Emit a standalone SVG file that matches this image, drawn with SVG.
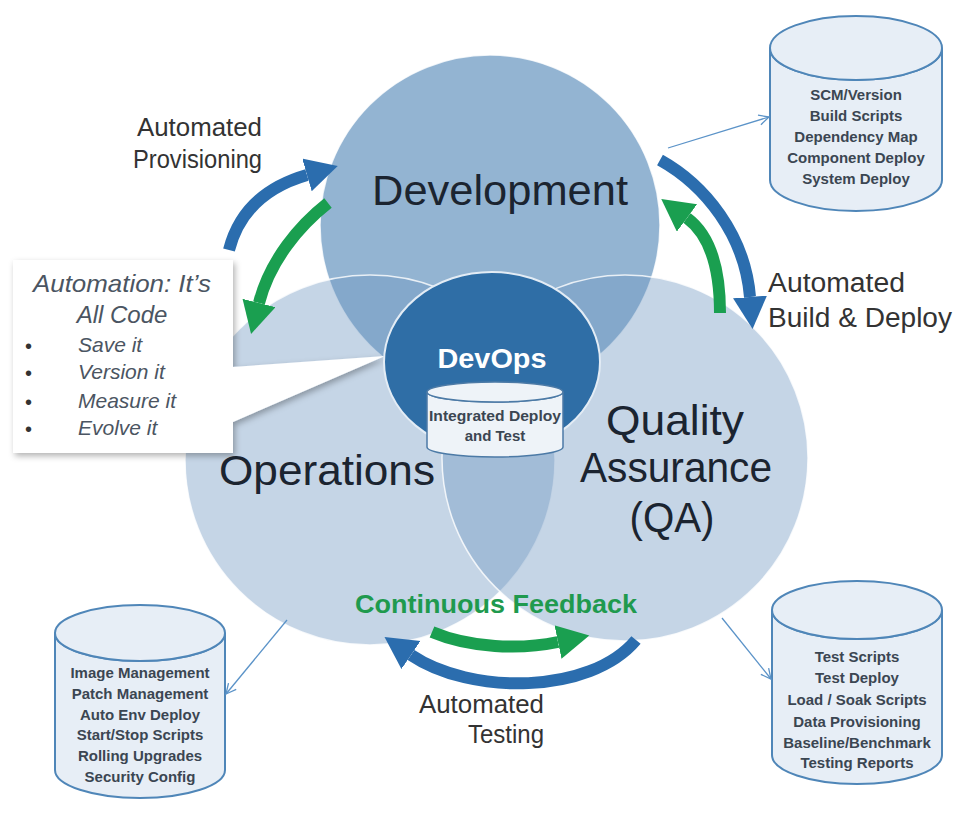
<svg xmlns="http://www.w3.org/2000/svg" width="971" height="816" viewBox="0 0 971 816">
  <defs>
    <style>
      .big { font-family: "Liberation Sans", Arial, sans-serif; font-size: 42px; fill: #1b2430; }
      .lbl { font-family: "Liberation Sans", Arial, sans-serif; fill: #333333; }
      .store { font-family: "Liberation Sans", Arial, sans-serif; font-size: 15px; font-weight: bold; fill: #3b4652; text-anchor: middle; }
      .note { font-family: "Liberation Sans", Arial, sans-serif; font-style: italic; fill: #4b5562; }
      .cyl { fill: #e7eef6; stroke: #4f86b8; stroke-width: 2; }
      .soft { fill: #6f97c1; fill-opacity: 0.4; stroke: #ffffff; stroke-opacity: 0.8; stroke-width: 1.5; }
      .blue { fill: none; stroke: #2b6dae; stroke-width: 12; }
      .green { fill: none; stroke: #1a9f50; stroke-width: 12; }
      .link { fill: none; stroke: #5b93c8; stroke-width: 1.3; }
    </style>
    <marker id="headBlue" markerUnits="userSpaceOnUse" markerWidth="34" markerHeight="36" refX="0" refY="17" orient="auto">
      <path d="M0,0 L32,17 L0,34 Z" fill="#2b6dae"/>
    </marker>
    <marker id="headGreen" markerUnits="userSpaceOnUse" markerWidth="34" markerHeight="36" refX="0" refY="17" orient="auto">
      <path d="M0,0 L32,17 L0,34 Z" fill="#1a9f50"/>
    </marker>
    <marker id="open" markerUnits="userSpaceOnUse" markerWidth="14" markerHeight="14" refX="11" refY="6" orient="auto">
      <path d="M1,1 L11,6 L1,11" fill="none" stroke="#5b93c8" stroke-width="1.3"/>
    </marker>
    <filter id="shadow" x="-10%" y="-10%" width="130%" height="130%">
      <feDropShadow dx="2" dy="3" stdDeviation="3" flood-color="#000000" flood-opacity="0.3"/>
    </filter>
  </defs>

  <rect width="971" height="816" fill="#ffffff"/>

  <!-- three overlapping areas -->
  <g id="development">
    <circle cx="490" cy="225" r="170" fill="#93b4d2" stroke="#ffffff" stroke-opacity="0.8" stroke-width="1.5"/>
  </g>
  <g id="operations">
    <circle class="soft" cx="370" cy="460" r="185"/>
  </g>
  <g id="qa">
    <circle class="soft" cx="625" cy="458" r="183"/>
  </g>

  <!-- callout -->
  <g id="callout">
    <path d="M13,260 H233 V367 L385,356 L233,422 V453 H13 Z" fill="#ffffff" filter="url(#shadow)"/>
    <text class="note" x="122" y="292" font-size="24" text-anchor="middle" textLength="178" lengthAdjust="spacingAndGlyphs">Automation: It’s</text>
    <text class="note" x="122" y="323" font-size="24" text-anchor="middle">All Code</text>
    <g font-family="Liberation Sans, Arial, sans-serif" font-size="20" fill="#333333">
      <text x="25" y="353">•</text>
      <text x="25" y="380">•</text>
      <text x="25" y="409">•</text>
      <text x="25" y="436">•</text>
    </g>
    <text class="note" x="78" y="352" font-size="21">Save it</text>
    <text class="note" x="78" y="379" font-size="21">Version it</text>
    <text class="note" x="78" y="408" font-size="21">Measure it</text>
    <text class="note" x="78" y="435" font-size="21">Evolve it</text>
  </g>

  <!-- centre -->
  <g id="devops">
    <ellipse cx="492" cy="362" rx="108" ry="90" fill="#2f6ea6" stroke="#e3ecf5" stroke-width="2"/>
    <text x="492" y="368" font-family="Liberation Sans, Arial, sans-serif" font-size="28" font-weight="bold" fill="#ffffff" text-anchor="middle" textLength="109" lengthAdjust="spacingAndGlyphs">DevOps</text>
  </g>
  <g id="integrated">
    <path d="M427,392 V447 A68,10 0 0 0 563,447 V392 A68,10 0 0 1 427,392 Z" fill="#eef3f8" stroke="#4c7aa6" stroke-width="1.5"/>
    <ellipse cx="495" cy="392" rx="68" ry="10" fill="#eef3f8" stroke="#4c7aa6" stroke-width="1.5"/>
    <text class="store" x="495" y="421" font-size="14" textLength="132" lengthAdjust="spacingAndGlyphs">Integrated Deploy</text>
    <text class="store" x="495" y="441" font-size="14">and Test</text>
  </g>

  <!-- area titles -->
  <text class="big" x="500" y="205" text-anchor="middle" textLength="256" lengthAdjust="spacingAndGlyphs">Development</text>
  <text class="big" x="327" y="485" text-anchor="middle" textLength="216" lengthAdjust="spacingAndGlyphs">Operations</text>
  <text class="big" x="675" y="435" text-anchor="middle" textLength="138" lengthAdjust="spacingAndGlyphs">Quality</text>
  <text class="big" x="676" y="482" text-anchor="middle" textLength="192" lengthAdjust="spacingAndGlyphs">Assurance</text>
  <text class="big" x="672" y="532" text-anchor="middle" textLength="85" lengthAdjust="spacingAndGlyphs">(QA)</text>
  <text x="496" y="613" font-family="Liberation Sans, Arial, sans-serif" font-size="25" font-weight="bold" fill="#1f9a4e" text-anchor="middle" textLength="282" lengthAdjust="spacingAndGlyphs">Continuous Feedback</text>

  <!-- tool stores -->
  <g id="store-dev">
    <path class="cyl" d="M770,48 V180 A86,31 0 0 0 942,180 V48 A86,32 0 0 1 770,48 Z"/>
    <ellipse class="cyl" cx="856" cy="48" rx="86" ry="32"/>
    <text class="store" x="856" y="100">SCM/Version</text>
    <text class="store" x="856" y="121">Build Scripts</text>
    <text class="store" x="856" y="142">Dependency Map</text>
    <text class="store" x="856" y="163">Component Deploy</text>
    <text class="store" x="856" y="184">System Deploy</text>
  </g>
  <g id="store-ops">
    <path class="cyl" d="M55,633 V770 A85,28 0 0 0 225,770 V633 A85,28 0 0 1 55,633 Z"/>
    <ellipse class="cyl" cx="140" cy="633" rx="85" ry="28"/>
    <text class="store" x="140" y="678">Image Management</text>
    <text class="store" x="140" y="699">Patch Management</text>
    <text class="store" x="140" y="720">Auto Env Deploy</text>
    <text class="store" x="140" y="740">Start/Stop Scripts</text>
    <text class="store" x="140" y="761">Rolling Upgrades</text>
    <text class="store" x="140" y="782">Security Config</text>
  </g>
  <g id="store-qa">
    <path class="cyl" d="M772,610 V755 A85,29 0 0 0 942,755 V610 A85,29 0 0 1 772,610 Z"/>
    <ellipse class="cyl" cx="857" cy="610" rx="85" ry="29"/>
    <text class="store" x="857" y="662">Test Scripts</text>
    <text class="store" x="857" y="683">Test Deploy</text>
    <text class="store" x="857" y="705">Load / Soak Scripts</text>
    <text class="store" x="857" y="727">Data Provisioning</text>
    <text class="store" x="857" y="748">Baseline/Benchmark</text>
    <text class="store" x="857" y="768">Testing Reports</text>
  </g>

  <!-- connectors -->
  <g id="connectors">
    <path class="link" d="M668,148 L769,117" marker-end="url(#open)"/>
    <path class="link" d="M287,620 L226,694" marker-end="url(#open)"/>
    <path class="link" d="M722,618 L771,679" marker-end="url(#open)"/>

    <path class="blue" d="M229,250 C238,215 262,188 307,175" marker-end="url(#headBlue)"/>
    <path class="green" d="M328,203 C300,225 270,260 259,303" marker-end="url(#headGreen)"/>
    <path class="blue" d="M660,160 C705,185 745,235 750,297" marker-end="url(#headBlue)"/>
    <path class="green" d="M720,313 C720,270 710,235 687,218" marker-end="url(#headGreen)"/>
    <path class="green" d="M432,632 C470,648 520,650 558,642" marker-end="url(#headGreen)"/>
    <path class="blue" d="M636,640 C590,695 470,695 411,655" marker-end="url(#headBlue)"/>
  </g>

  <!-- flow labels -->
  <text class="lbl" x="262" y="136" font-size="25" text-anchor="end" textLength="125" lengthAdjust="spacingAndGlyphs">Automated</text>
  <text class="lbl" x="262" y="168" font-size="25" text-anchor="end" textLength="129" lengthAdjust="spacingAndGlyphs">Provisioning</text>
  <text class="lbl" x="768" y="292" font-size="27" textLength="137" lengthAdjust="spacingAndGlyphs">Automated</text>
  <text class="lbl" x="768" y="327" font-size="27" textLength="184" lengthAdjust="spacingAndGlyphs">Build &amp; Deploy</text>
  <text class="lbl" x="544" y="713" font-size="26" text-anchor="end" textLength="125" lengthAdjust="spacingAndGlyphs">Automated</text>
  <text class="lbl" x="544" y="743" font-size="26" text-anchor="end" textLength="76" lengthAdjust="spacingAndGlyphs">Testing</text>
</svg>
